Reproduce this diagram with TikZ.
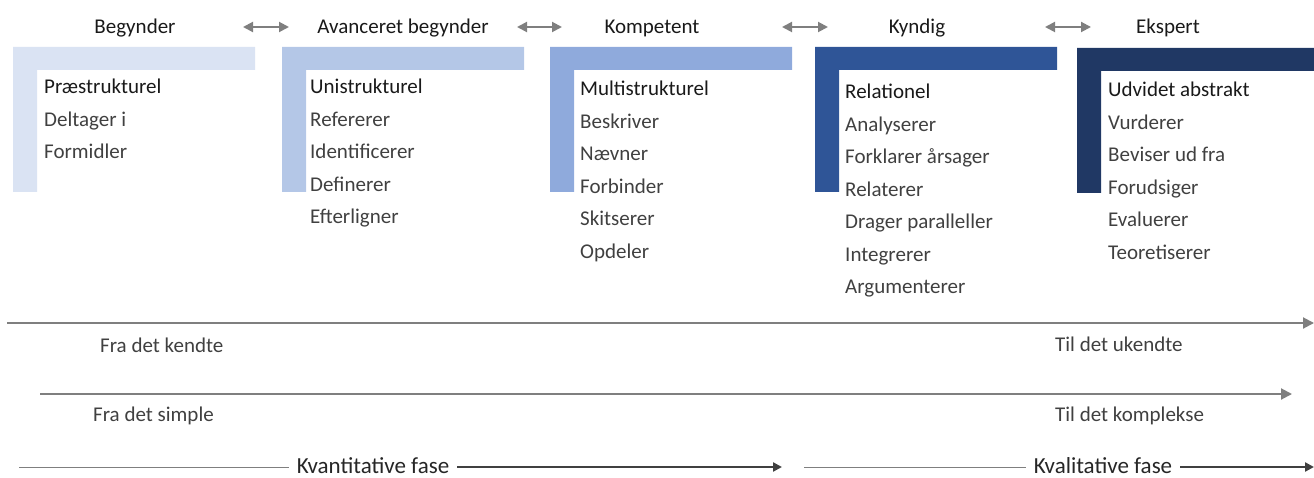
\documentclass[tikz,border=0pt]{standalone}
\usepackage{fontspec}
\setmainfont{Carlito}
\usetikzlibrary{arrows.meta}
\definecolor{lvlA}{HTML}{DAE3F3}
\definecolor{lvlB}{HTML}{B4C7E7}
\definecolor{lvlC}{HTML}{8FAADC}
\definecolor{lvlD}{HTML}{2F5597}
\definecolor{lvlE}{HTML}{203864}
\definecolor{arrowgray}{HTML}{7F7F7F}
\definecolor{itemgray}{HTML}{404040}
\begin{document}
\begin{tikzpicture}[x=1pt,y=-1pt,
    every node/.style={font=\fontsize{21}{25}\selectfont,inner sep=0pt},
    head/.style={anchor=base,text=black!90},
    title/.style={anchor=base west,text=black!90},
    item/.style={anchor=base west,text=itemgray},
    phase/.style={anchor=base,text=black!85,inner xsep=8pt,font=\fontsize{23}{27}\selectfont},
    swap arrow/.style={{Triangle[length=10pt,width=10pt]}-{Triangle[length=10pt,width=10pt]},arrowgray,line width=2pt},
    long arrow/.style={-{Triangle[length=11pt,width=11pt]},arrowgray,line width=2pt},
    phase line/.style={arrowgray,line width=0.8pt},
    phase arrow/.style={-{Triangle[length=9pt,width=9pt]},itemgray,line width=2.5pt}
  ]
  \useasboundingbox (0,0) rectangle (1314,478);
  % levels
  \node[head] (begynder) at (135,34) {Begynder};
  \node[head] (avanceret) at (403,34) {Avanceret begynder};
  \node[head] (kompetent) at (652,34) {Kompetent};
  \node[head] (kyndig) at (917,34) {Kyndig};
  \node[head] (ekspert) at (1168,34) {Ekspert};
  \coordinate (sw1l) at (243,27); \coordinate (sw1r) at (289,27);
  \coordinate (sw2l) at (517,27); \coordinate (sw2r) at (562,27);
  \coordinate (sw3l) at (782,27); \coordinate (sw3r) at (828,27);
  \coordinate (sw4l) at (1045,27); \coordinate (sw4r) at (1091,27);
  \draw[swap arrow] (sw1l) -- (sw1r);
  \draw[swap arrow] (sw2l) -- (sw2r);
  \draw[swap arrow] (sw3l) -- (sw3r);
  \draw[swap arrow] (sw4l) -- (sw4r);
  % brackets
  \foreach \x/\y/\c in {13/47/lvlA,282/47/lvlB,550/47/lvlC,815/47/lvlD,1077/48/lvlE}
    \fill[\c] (\x,\y) -- ++(242,0) -- ++(0,23) -- ++(-218,0) -- ++(0,122) -- ++(-24,0) -- cycle;
  % SOLO lists
  \node[title] (pre) at (44,94) {Præstrukturel};
  \foreach \t [count=\i] in {Deltager i,Formidler}
    \node[item] (pre-\i) at (44,94+32.5*\i) {\t};
  \node[title] (uni) at (310,94) {Unistrukturel};
  \foreach \t [count=\i] in {Refererer,Identificerer,Definerer,Efterligner}
    \node[item] (uni-\i) at (310,94+32.5*\i) {\t};
  \node[title] (multi) at (580,96) {Multistrukturel};
  \foreach \t [count=\i] in {Beskriver,Nævner,Forbinder,Skitserer,Opdeler}
    \node[item] (multi-\i) at (580,96+32.5*\i) {\t};
  \node[title] (rel) at (845,99) {Relationel};
  \foreach \t [count=\i] in {Analyserer,Forklarer årsager,Relaterer,Drager paralleller,Integrerer,Argumenterer}
    \node[item] (rel-\i) at (845,99+32.5*\i) {\t};
  \node[title] (udv) at (1108,97) {Udvidet abstrakt};
  \foreach \t [count=\i] in {Vurderer,Beviser ud fra,Forudsiger,Evaluerer,Teoretiserer}
    \node[item] (udv-\i) at (1108,97+32.5*\i) {\t};
  % directions
  \coordinate (kend0) at (7,323); \coordinate (kend1) at (1314,323);
  \draw[long arrow] (kend0) -- (kend1);
  \node[item] (fraK) at (100,352) {Fra det kendte};
  \node[item] (tilK) at (1055,351) {Til det ukendte};
  \coordinate (simp0) at (40,394); \coordinate (simp1) at (1292,394);
  \draw[long arrow] (simp0) -- (simp1);
  \node[item] (fraS) at (93,421) {Fra det simple};
  \node[item] (tilS) at (1055,421) {Til det komplekse};
  % phases
  \node[phase] (kvant) at (373,473) {Kvantitative fase};
  \node[phase] (kval) at (1103,473) {Kvalitative fase};
  \coordinate (kvant0) at (19,467); \coordinate (kvant1) at (782,467);
  \coordinate (kval0) at (804,467); \coordinate (kval1) at (1314,467);
  \draw[phase line] (kvant0) -- (kvant0 -| kvant.west);
  \draw[phase arrow] (kvant.east |- kvant1) -- (kvant1);
  \draw[phase line] (kval0) -- (kval0 -| kval.west);
  \draw[phase arrow] (kval.east |- kval1) -- (kval1);
\end{tikzpicture}
\end{document}
